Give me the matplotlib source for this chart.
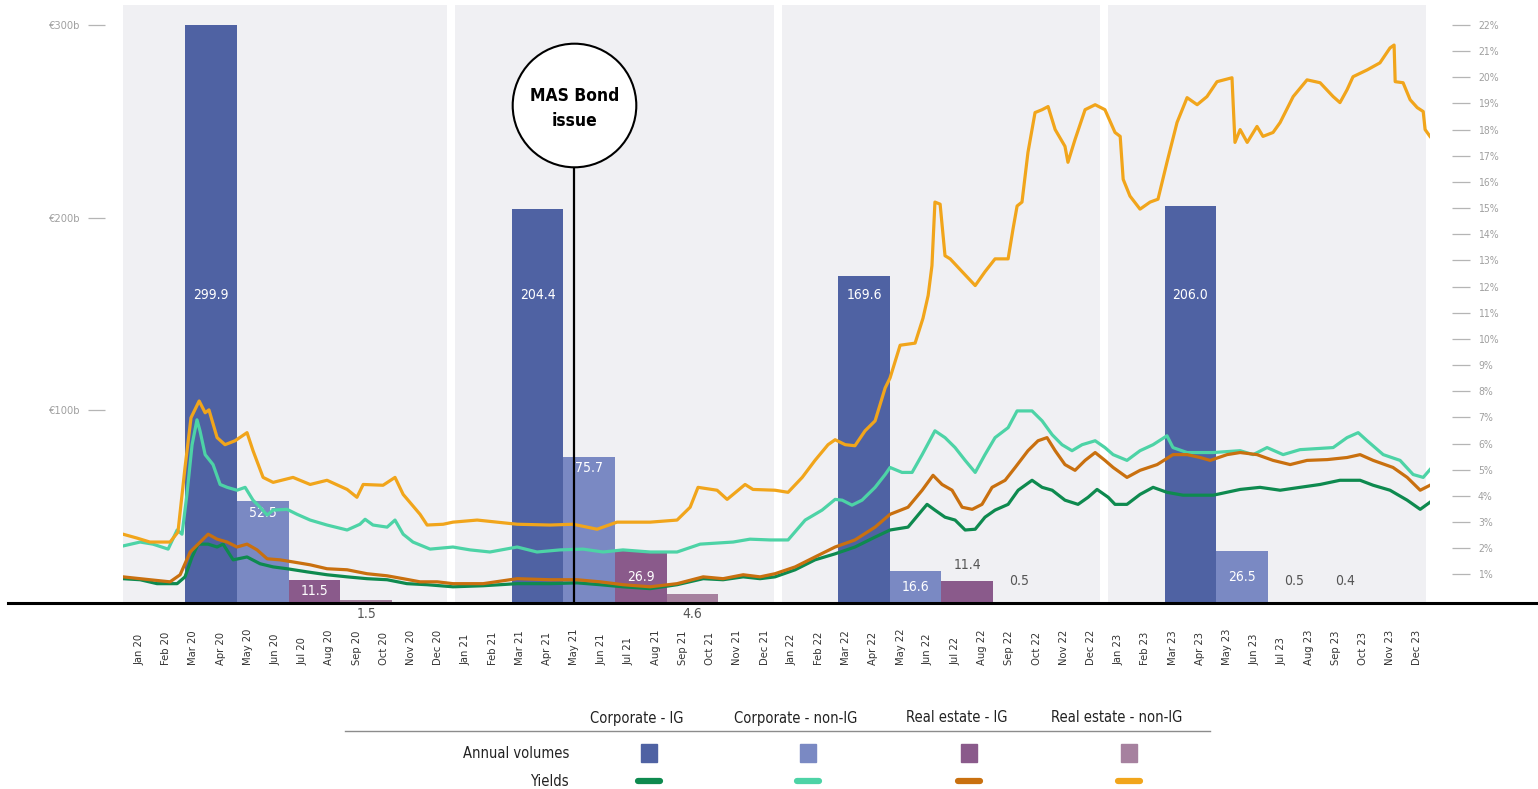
import numpy as np
import matplotlib.pyplot as plt
from matplotlib.lines import Line2D
from matplotlib.patches import Rectangle
from matplotlib.ticker import FuncFormatter

plt.rcParams['font.family'] = 'DejaVu Sans'
plt.rcParams['font.stretch'] = 'condensed'

years = ['20', '21', '22', '23']
months = ['Jan', 'Feb', 'Mar', 'Apr', 'May', 'Jun', 'Jul', 'Aug', 'Sep', 'Oct', 'Nov', 'Dec']
series = ['Corporate - IG', 'Corporate - non-IG', 'Real estate - IG', 'Real estate - non-IG']

# annual issuance volumes (EUR bn), one per year 2020-2023
vol_corp_ig = [299.9, 204.4, 169.6, 206.0]
vol_corp_nonig = [52.5, 75.7, 16.6, 26.5]
vol_re_ig = [11.5, 26.9, 11.4, 0.5]
vol_re_nonig = [1.5, 4.6, 0.5, 0.4]

# yields (%), time in months since Jan 2020
corp_ig_t = [-0.59, 0.04, 0.66, 1.40, 1.69, 1.95, 2.17, 2.54, 2.87, 3.09,
             3.46, 3.97, 4.45, 4.93, 5.44, 6.18, 6.91, 7.65, 8.38, 9.12,
             9.85, 10.59, 11.54, 12.65, 13.90, 15.11, 16.10, 16.95, 17.79, 18.79,
             19.78, 20.74, 21.47, 22.21, 22.83, 23.38, 24.12, 24.85, 25.59, 26.32,
             27.06, 27.61, 28.27, 28.79, 28.97, 29.26, 29.63, 30.00, 30.37, 30.74,
             31.10, 31.47, 31.95, 32.32, 32.83, 33.20, 33.57, 34.04, 34.52, 34.89,
             35.22, 35.63, 35.88, 36.32, 36.80, 37.28, 37.79, 38.38, 39.49, 40.48,
             41.21, 41.95, 42.68, 43.42, 44.15, 44.89, 45.37, 45.99, 46.62, 47.10,
             47.46]
corp_ig_yield = [0.84, 0.80, 0.65, 0.65, 0.91, 1.67, 2.16, 2.16, 2.05, 2.16,
                 1.56, 1.67, 1.41, 1.29, 1.22, 1.10, 0.99, 0.91, 0.84, 0.80,
                 0.65, 0.61, 0.53, 0.57, 0.65, 0.65, 0.68, 0.61, 0.53, 0.46,
                 0.61, 0.84, 0.80, 0.91, 0.84, 0.91, 1.18, 1.56, 1.79, 2.05,
                 2.43, 2.70, 2.81, 3.46, 3.68, 3.46, 3.19, 3.08, 2.70, 2.73,
                 3.19, 3.46, 3.68, 4.22, 4.60, 4.33, 4.22, 3.84, 3.68, 3.95,
                 4.25, 3.95, 3.68, 3.68, 4.06, 4.33, 4.14, 4.03, 4.03, 4.25,
                 4.33, 4.22, 4.33, 4.44, 4.60, 4.60, 4.41, 4.22, 3.84, 3.49,
                 3.76]

corp_nonig_t = [-0.59, 0.04, 0.51, 1.07, 1.40, 1.58, 1.76, 1.95, 2.13, 2.24,
                2.43, 2.72, 2.98, 3.24, 3.60, 3.90, 4.19, 4.45, 4.71, 4.93,
                5.44, 5.81, 6.29, 6.91, 7.65, 8.12, 8.31, 8.60, 9.12, 9.41,
                9.71, 10.07, 10.70, 11.54, 12.17, 12.90, 13.90, 14.63, 15.48, 16.32,
                17.06, 17.79, 18.79, 19.78, 20.63, 21.84, 22.46, 23.20, 23.86, 24.49,
                25.11, 25.59, 25.85, 26.21, 26.58, 27.06, 27.43, 27.61, 28.05, 28.42,
                28.79, 29.26, 29.63, 30.00, 30.37, 30.74, 31.10, 31.47, 31.95, 32.28,
                32.83, 33.20, 33.57, 33.93, 34.30, 34.67, 35.15, 35.51, 35.81, 36.32,
                36.80, 37.28, 37.79, 38.01, 38.53, 39.49, 40.48, 40.96, 41.47, 42.06,
                42.68, 43.90, 44.41, 44.82, 45.15, 45.74, 46.36, 46.84, 47.21, 47.46]
corp_nonig_yield = [2.09, 2.24, 2.16, 1.97, 2.70, 2.54, 4.06, 5.96, 6.91, 6.49,
                    5.58, 5.20, 4.44, 4.33, 4.22, 4.33, 3.84, 3.57, 3.27, 3.46,
                    3.49, 3.30, 3.08, 2.89, 2.70, 2.92, 3.11, 2.89, 2.81, 3.08,
                    2.54, 2.24, 1.97, 2.05, 1.94, 1.86, 2.05, 1.86, 1.94, 1.97,
                    1.86, 1.94, 1.86, 1.86, 2.16, 2.24, 2.35, 2.32, 2.32, 3.08,
                    3.46, 3.87, 3.84, 3.65, 3.84, 4.33, 4.82, 5.09, 4.90, 4.90,
                    5.58, 6.49, 6.23, 5.85, 5.36, 4.90, 5.58, 6.23, 6.61, 7.25,
                    7.25, 6.87, 6.34, 5.96, 5.73, 5.96, 6.11, 5.85, 5.58, 5.36,
                    5.73, 5.96, 6.30, 5.85, 5.66, 5.66, 5.73, 5.58, 5.85, 5.58,
                    5.77, 5.85, 6.23, 6.42, 6.11, 5.58, 5.36, 4.82, 4.71, 5.01]

re_ig_t = [-0.59, 0.40, 1.14, 1.51, 1.88, 2.17, 2.54, 2.87, 3.24, 3.60,
           3.97, 4.34, 4.71, 5.18, 5.66, 6.29, 6.91, 7.65, 8.38, 9.12,
           9.71, 10.33, 10.96, 11.54, 12.65, 13.90, 15.11, 16.10, 16.95, 17.79,
           18.79, 19.78, 20.74, 21.47, 22.21, 22.83, 23.38, 24.12, 24.85, 25.59,
           26.32, 27.06, 27.61, 28.27, 28.79, 29.19, 29.52, 29.89, 30.26, 30.63,
           30.99, 31.36, 31.84, 32.21, 32.68, 33.05, 33.38, 33.68, 34.04, 34.41,
           34.78, 35.15, 35.51, 35.81, 36.32, 36.80, 37.43, 38.01, 38.53, 39.01,
           39.38, 40.00, 40.48, 41.10, 41.69, 42.32, 42.94, 43.68, 44.41, 44.89,
           45.37, 46.10, 46.62, 47.10, 47.46]
re_ig_yield = [0.91, 0.80, 0.72, 0.99, 1.86, 2.16, 2.54, 2.35, 2.24, 2.05,
               2.16, 1.94, 1.60, 1.56, 1.48, 1.37, 1.22, 1.18, 1.03, 0.95,
               0.84, 0.72, 0.72, 0.65, 0.65, 0.84, 0.80, 0.80, 0.72, 0.61,
               0.53, 0.65, 0.91, 0.84, 0.99, 0.91, 1.03, 1.29, 1.67, 2.05,
               2.32, 2.81, 3.30, 3.57, 4.22, 4.79, 4.44, 4.22, 3.57, 3.49,
               3.68, 4.33, 4.60, 5.09, 5.73, 6.11, 6.23, 5.73, 5.20, 4.98,
               5.36, 5.66, 5.36, 5.09, 4.71, 4.98, 5.20, 5.58, 5.58, 5.47,
               5.36, 5.58, 5.66, 5.58, 5.36, 5.20, 5.36, 5.39, 5.47, 5.58,
               5.36, 5.09, 4.71, 4.22, 4.41]

re_nonig_t = [-0.59, -0.07, 0.40, 1.14, 1.43, 1.69, 1.91, 2.21, 2.43, 2.57,
              2.87, 3.16, 3.53, 3.97, 4.19, 4.56, 4.93, 5.66, 6.29, 6.91,
              7.65, 8.01, 8.24, 8.97, 9.41, 9.71, 10.33, 10.59, 11.18, 11.54,
              12.43, 13.90, 15.11, 15.96, 16.84, 17.57, 18.79, 19.78, 20.26, 20.55,
              21.25, 21.62, 22.28, 22.57, 23.38, 23.86, 24.38, 24.85, 25.33, 25.59,
              25.96, 26.32, 26.69, 27.06, 27.43, 27.61, 27.98, 28.53, 28.82, 29.01,
              29.15, 29.26, 29.45, 29.63, 29.82, 30.26, 30.74, 31.10, 31.47, 31.95,
              32.13, 32.28, 32.46, 32.68, 32.94, 33.20, 33.42, 33.68, 34.04, 34.15,
              34.41, 34.78, 35.15, 35.51, 35.88, 36.07, 36.18, 36.43, 36.80, 37.17,
              37.46, 37.79, 38.16, 38.53, 38.90, 39.26, 39.63, 40.18, 40.29, 40.48,
              40.74, 41.10, 41.32, 41.69, 41.95, 42.43, 42.94, 43.42, 43.90, 44.15,
              44.41, 44.63, 45.15, 45.62, 45.99, 46.14, 46.18, 46.47, 46.73, 46.99,
              47.21, 47.28, 47.46]
re_nonig_yield = [2.54, 2.39, 2.24, 2.24, 2.62, 5.09, 6.99, 7.63, 7.18, 7.29,
                  6.23, 5.96, 6.11, 6.42, 5.73, 4.71, 4.52, 4.71, 4.44, 4.60,
                  4.25, 3.95, 4.44, 4.41, 4.71, 4.06, 3.30, 2.89, 2.92, 3.00,
                  3.08, 2.92, 2.89, 2.92, 2.73, 3.00, 3.00, 3.08, 3.57, 4.33,
                  4.22, 3.87, 4.44, 4.25, 4.22, 4.14, 4.71, 5.36, 5.96, 6.15,
                  5.96, 5.92, 6.49, 6.87, 8.13, 8.51, 9.76, 9.84, 10.79, 11.66,
                  12.80, 15.23, 15.15, 13.18, 13.06, 12.57, 12.04, 12.57, 13.06, 13.06,
                  14.20, 15.08, 15.23, 17.13, 18.65, 18.76, 18.88, 18.00, 17.36, 16.75,
                  17.62, 18.76, 18.95, 18.76, 17.89, 17.74, 16.10, 15.46, 14.96, 15.23,
                  15.34, 16.75, 18.27, 19.22, 18.95, 19.26, 19.83, 19.98, 17.51, 18.00,
                  17.51, 18.12, 17.74, 17.89, 18.27, 19.26, 19.90, 19.79, 19.26, 19.03,
                  19.52, 20.02, 20.28, 20.55, 21.12, 21.23, 19.83, 19.79, 19.14, 18.84,
                  18.69, 18.00, 17.74]

mas_month = 16  # May 21

bar_colors = ['#4f62a3', '#7a89c3', '#8a5a8b', '#a6819f']
line_colors = ['#0e8a4f', '#4dd3a6', '#c9700f', '#f1a51b']

# where each bar value is written: mid / in / above / below
label_modes = [
    ['mid', 'mid', 'mid', 'mid'],
    ['in', 'in', 'in', 'in'],
    ['in', 'in', 'above', 'above'],
    ['below', 'below', 'above', 'above'],
]

W, H = 1538, 789
PT = 72 / 100  # points per pixel at dpi 100
fig = plt.figure(figsize=(W / 100, H / 100), dpi=100)
ax = fig.add_axes([123 / W, 1 - 602.5 / H, (1430 - 123) / W, (602.5 - 5) / H])
ax2 = ax.twinx()

ax.set_xlim(-0.59, 47.46)
ax.set_ylim(0, 310.4)
ax2.set_ylim(-0.07, 22.76)

# grey year panels
for k in range(len(years)):
    start = 12 * k - 0.38 if k else -0.59
    ax.axvspan(start, 12 * k + 11.33, color='#f0f0f3', lw=0, zorder=0)

# volume bars, four per year
volumes = [vol_corp_ig, vol_corp_nonig, vol_re_ig, vol_re_nonig]
year_start = 12 * np.arange(len(years))
for j, vals in enumerate(volumes):
    lefts = year_start + 1.7 + 1.9 * j
    ax.bar(lefts, vals, width=1.9, align='edge', color=bar_colors[j], lw=0, zorder=2)
    for x0, v, mode in zip(lefts, vals, label_modes[j]):
        xc = x0 + 0.95
        if mode == 'mid':
            y, c = 160, 'white'
        elif mode == 'in':
            y, c = (v - 6 if v > 40 else v / 2), 'white'
        elif mode == 'above':
            y, c = max(v + 8, 11), '#555555'
        else:
            y, c = -6, '#555555'
        ax.text(xc, y, f'{v:.1f}', ha='center', va='center', color=c, fontsize=10,
                zorder=3, clip_on=False)

# yield lines
yields = [(corp_ig_t, corp_ig_yield), (corp_nonig_t, corp_nonig_yield),
          (re_ig_t, re_ig_yield), (re_nonig_t, re_nonig_yield)]
for (t, y), c in zip(yields, line_colors):
    ax2.plot(t, y, color=c, lw=2.3, solid_joinstyle='round', zorder=3)

# MAS bond issue marker
ax2.vlines(mas_month, -0.07, 16.8, color='black', lw=1.6, zorder=5)
ax2.plot(mas_month, 18.92, marker='o', ms=89, mfc='white', mec='black', mew=1.5, zorder=6)
ax2.text(mas_month, 18.82, 'MAS Bond\nissue', ha='center', va='center', fontsize=12.5,
         fontweight='bold', linespacing=1.5, zorder=7)

# axes styling
for a in (ax, ax2):
    for s in a.spines.values():
        s.set_visible(False)

ax.set_xticks(range(len(years) * 12))
ax.set_xticklabels([f'{m} {y}' for y in years for m in months], rotation=90, va='bottom')
ax.tick_params(axis='x', length=0, pad=45, labelsize=8, labelcolor='#333333')

ax.spines['left'].set_position(('outward', 18 * PT))
ax.set_yticks([100, 200, 300])
ax.yaxis.set_major_formatter(FuncFormatter(lambda v, p: f'€{v:.0f}b'))
ax.tick_params(axis='y', length=17 * PT, width=0.9, color='#b5b5b5', pad=8 * PT,
               labelsize=8, labelcolor='#a0a0a0')

ax2.spines['right'].set_position(('outward', 22 * PT))
ax2.set_yticks(range(1, 23))
ax2.yaxis.set_major_formatter(FuncFormatter(lambda v, p: f'{v:.0f}%'))
ax2.tick_params(axis='y', length=18 * PT, width=0.9, color='#b5b5b5', pad=8 * PT,
                labelsize=7.5, labelcolor='#a0a0a0')

# baseline across the figure
fig.add_artist(Line2D([8 / W, 1], [1 - 602.5 / H] * 2, color='black', lw=2.2))

# legend table
def fx(px):
    return px / W


def fy(py):
    return 1 - py / H


col_x = [649, 808, 969, 1129]
for name, cx in zip(series, col_x):
    fig.text(fx(cx - 12), fy(718), name, ha='center', va='center', fontsize=10.5, color='#222222')
fig.add_artist(Line2D([fx(345), fx(1210)], [fy(731)] * 2, color='#8c8c8c', lw=1))
fig.text(fx(569), fy(753), 'Annual volumes', ha='right', va='center', fontsize=10.5, color='#222222')
fig.text(fx(569), fy(781), 'Yields', ha='right', va='center', fontsize=10.5, color='#222222')
for cx, bc, lc in zip(col_x, bar_colors, line_colors):
    fig.add_artist(Rectangle((fx(cx - 8), fy(762)), 16 / W, 18 / H, color=bc,
                             transform=fig.transFigure))
    fig.add_artist(Line2D([fx(cx - 11), fx(cx + 11)], [fy(781)] * 2, color=lc, lw=4.5,
                          solid_capstyle='round'))

fig.savefig('out.png', dpi=100)
